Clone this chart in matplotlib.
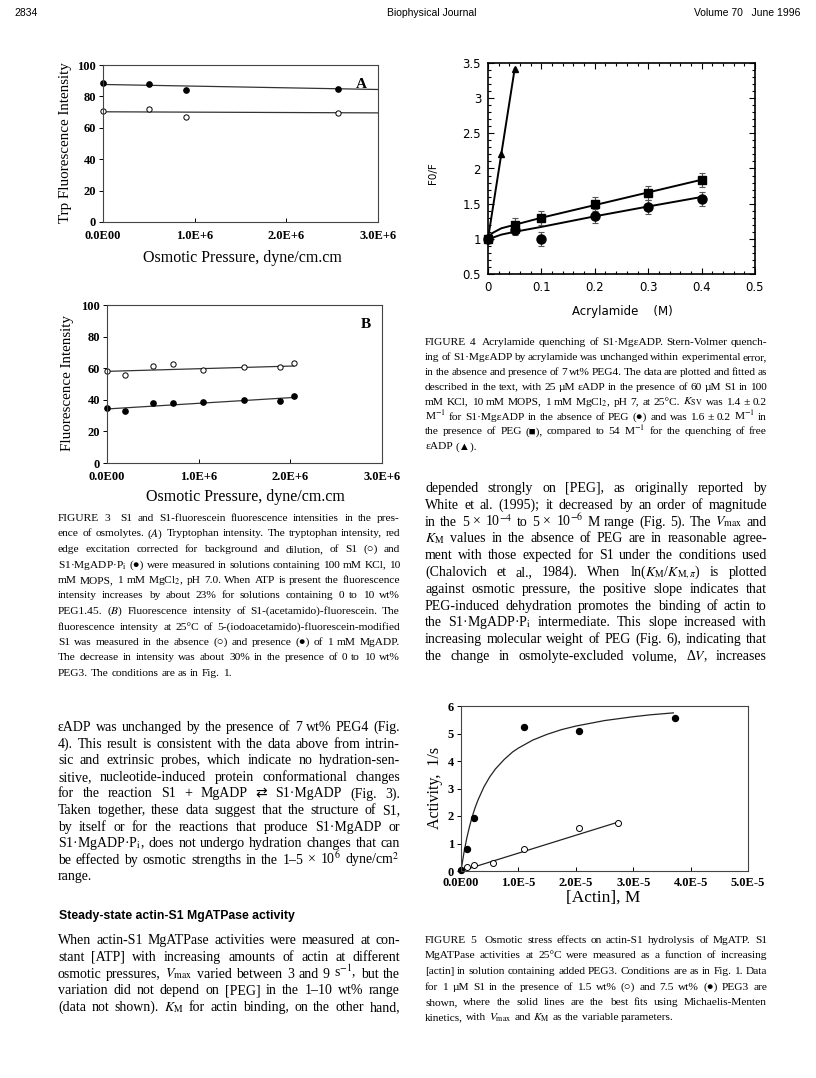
import matplotlib
matplotlib.use("Agg")
import matplotlib.pyplot as plt
from matplotlib.ticker import MultipleLocator, AutoMinorLocator

plt.rcParams['mathtext.fontset'] = 'stix'

W, H = 816, 1078
SERIF = ['Liberation Serif', 'DejaVu Sans']
SANS = ['Liberation Sans', 'DejaVu Sans']

# ---- Figure 3A: Trp fluorescence vs osmotic pressure
a_x_filled = [0.0, 0.5e6, 0.9e6, 2.56e6]
a_y_filled = [88.4, 88.2, 84.1, 84.6]
a_x_open = [0.0, 0.5e6, 0.9e6, 2.56e6]
a_y_open = [70.6, 72.0, 66.8, 69.2]
a_fit_x = [0.0, 3.0e6]
a_fit_filled = [87.6, 84.4]
a_fit_open = [70.2, 69.5]

# ---- Figure 3B: fluorescein fluorescence vs osmotic pressure
b_x = [0.0, 0.2e6, 0.5e6, 0.72e6, 1.05e6, 1.49e6, 1.89e6, 2.04e6]
b_y_open = [58.2, 55.6, 61.2, 62.6, 59.0, 60.5, 60.5, 63.5]
b_y_filled = [34.5, 33.0, 38.0, 38.0, 38.3, 40.0, 39.5, 42.5]
b_fit_x = [0.0, 2.04e6]
b_fit_open = [58.0, 61.4]
b_fit_filled = [34.2, 41.5]
osm_ticks = [0.0, 1.0e6, 2.0e6, 3.0e6]
osm_labels = ['0.0E00', '1.0E+6', '2.0E+6', '3.0E+6']

# ---- Figure 4: Stern-Volmer acrylamide quenching
acryl = [0.0, 0.05, 0.1, 0.2, 0.3, 0.4]
f0f_peg = [1.0, 1.2, 1.29, 1.5, 1.65, 1.84]
f0f_nopeg = [1.0, 1.13, 1.0, 1.32, 1.45, 1.57]
err_peg = [0.0, 0.1, 0.1, 0.1, 0.1, 0.1]
err_nopeg = [0.0, 0.08, 0.1, 0.1, 0.1, 0.1]
acryl_free = [0.0, 0.025, 0.05]
f0f_free = [1.0, 2.2, 3.42]
fit_peg_x = [0.0, 0.003, 0.01, 0.025, 0.05, 0.1, 0.2, 0.3, 0.4]
fit_peg_y = [1.0, 1.05, 1.09, 1.15, 1.2, 1.3, 1.48, 1.66, 1.84]
fit_nopeg_x = [0.0, 0.01, 0.025, 0.05, 0.1, 0.2, 0.3, 0.4]
fit_nopeg_y = [1.0, 1.02, 1.06, 1.1, 1.17, 1.32, 1.46, 1.595]
fit_free_x = [0.0, 0.05]
fit_free_y = [1.0, 3.42]

# ---- Figure 5: actin-S1 MgATPase activity
actin_filled = [0.0, 0.11e-5, 0.22e-5, 1.09e-5, 2.05e-5, 3.73e-5]
act_filled = [0.05, 0.8, 1.92, 5.24, 5.1, 5.55]
actin_open = [0.11e-5, 0.22e-5, 0.55e-5, 1.09e-5, 2.05e-5, 2.74e-5]
act_open = [0.13, 0.23, 0.29, 0.8, 1.57, 1.74]
mm_x = [0.0, 0.05e-5, 0.1e-5, 0.15e-5, 0.2e-5, 0.25e-5, 0.3e-5, 0.4e-5,
        0.5e-5, 0.6e-5, 0.75e-5, 0.9e-5, 1.0e-5, 1.25e-5, 1.5e-5, 1.75e-5,
        2.0e-5, 2.5e-5, 3.0e-5, 3.3e-5, 3.7e-5]
mm_y = [0.0, 0.65, 1.19, 1.63, 2.01, 2.33, 2.6, 3.06,
        3.42, 3.71, 4.05, 4.33, 4.47, 4.76, 4.97, 5.14,
        5.27, 5.47, 5.61, 5.68, 5.75]
lin_x = [0.0, 2.74e-5]
lin_y = [0.0, 1.78]
actin_ticks = [0.0, 1e-5, 2e-5, 3e-5, 4e-5, 5e-5]
actin_labels = ['0.0E00', '1.0E-5', '2.0E-5', '3.0E-5', '4.0E-5', '5.0E-5']

# ---- page text (math kept free of spaces so lines can be split on words)
header = ['2834', 'Biophysical Journal', 'Volume 70   June 1996']

cap3 = [
    "FIGURE 3  S1 and S1-fluorescein fluorescence intensities in the pres-",
    "ence of osmolytes. ($A$) Tryptophan intensity. The tryptophan intensity, red",
    "edge excitation corrected for background and dilution, of S1 (○) and",
    r"S1·MgADP·P$_\mathrm{i}$ (●) were measured in solutions containing 100 mM KCl, 10",
    "mM MOPS, 1 mM MgCl$_2$, pH 7.0. When ATP is present the fluorescence",
    "intensity increases by about 23% for solutions containing 0 to 10 wt%",
    "PEG1.45. ($B$) Fluorescence intensity of S1-(acetamido)-fluorescein. The",
    "fluorescence intensity at 25°C of 5-(iodoacetamido)-fluorescein-modified",
    "S1 was measured in the absence (○) and presence (●) of 1 mM MgADP.",
    "The decrease in intensity was about 30% in the presence of 0 to 10 wt%",
    "PEG3. The conditions are as in Fig. 1.",
]
cap4 = [
    "FIGURE 4  Acrylamide quenching of S1·MgεADP. Stern-Volmer quench-",
    "ing of S1·MgεADP by acrylamide was unchanged within experimental error,",
    "in the absence and presence of 7 wt% PEG4. The data are plotted and fitted as",
    "described in the text, with 25 µM εADP in the presence of 60 µM S1 in 100",
    r"mM KCl, 10 mM MOPS, 1 mM MgCl$_2$, pH 7, at 25°C. $K_\mathrm{SV}$ was 1.4 ± 0.2",
    "M$^{-1}$ for S1·MgεADP in the absence of PEG (●) and was 1.6 ± 0.2 M$^{-1}$ in",
    "the presence of PEG (■), compared to 54 M$^{-1}$ for the quenching of free",
    "εADP (▲).",
]
cap5 = [
    "FIGURE 5  Osmotic stress effects on actin-S1 hydrolysis of MgATP. S1",
    "MgATPase activities at 25°C were measured as a function of increasing",
    "[actin] in solution containing added PEG3. Conditions are as in Fig. 1. Data",
    "for 1 µM S1 in the presence of 1.5 wt% (○) and 7.5 wt% (●) PEG3 are",
    "shown, where the solid lines are the best fits using Michaelis-Menten",
    r"kinetics, with $V_\mathrm{max}$ and $K_\mathrm{M}$ as the variable parameters.",
]
body_left = [
    "εADP was unchanged by the presence of 7 wt% PEG4 (Fig.",
    "4). This result is consistent with the data above from intrin-",
    "sic and extrinsic probes, which indicate no hydration-sen-",
    "sitive, nucleotide-induced protein conformational changes",
    "for the reaction S1 + MgADP ⇄ S1·MgADP (Fig. 3).",
    "Taken together, these data suggest that the structure of S1,",
    "by itself or for the reactions that produce S1·MgADP or",
    r"S1·MgADP·P$_\mathrm{i}$, does not undergo hydration changes that can",
    "be effected by osmotic strengths in the 1–5 × 10$^6$ dyne/cm$^2$",
    "range.",
]
heading = "Steady-state actin-S1 MgATPase activity"
body_left2 = [
    "When actin-S1 MgATPase activities were measured at con-",
    "stant [ATP] with increasing amounts of actin at different",
    r"osmotic pressures, $V_\mathrm{max}$ varied between 3 and 9 s$^{-1}$, but the",
    "variation did not depend on [PEG] in the 1–10 wt% range",
    r"(data not shown). $K_\mathrm{M}$ for actin binding, on the other hand,",
]
body_right = [
    "depended strongly on [PEG], as originally reported by",
    "White et al. (1995); it decreased by an order of magnitude",
    r"in the 5 × 10$^{-4}$ to 5 × 10$^{-6}$ M range (Fig. 5). The $V_\mathrm{max}$ and",
    r"$K_\mathrm{M}$ values in the absence of PEG are in reasonable agree-",
    "ment with those expected for S1 under the conditions used",
    r"(Chalovich et al., 1984). When ln($K_\mathrm{M}$/$K_{\mathrm{M},\pi}$) is plotted",
    "against osmotic pressure, the positive slope indicates that",
    "PEG-induced dehydration promotes the binding of actin to",
    r"the S1·MgADP·P$_\mathrm{i}$ intermediate. This slope increased with",
    "increasing molecular weight of PEG (Fig. 6), indicating that",
    "the change in osmolyte-excluded volume, Δ$V$, increases",
]


def fx(x):
    return x / W


def fy(y):
    return 1 - y / H


def axes_px(fig, l, t, r, b):
    return fig.add_axes([l / W, 1 - b / H, (r - l) / W, (b - t) / H])


def put_line(fig, rend, x0, x1, y, line, size, family, justify=True, **kw):
    words = line.split(' ')
    texts = [fig.text(fx(x0), fy(y), w, fontsize=size, family=family,
                      va='baseline', ha='left', **kw) for w in words]
    widths = [t.get_window_extent(rend).width if w else 0.0
              for t, w in zip(texts, words)]
    gap = 0.25 * size * fig.dpi / 72
    if justify and len(words) > 1:
        gap = (x1 - x0 - sum(widths)) / (len(words) - 1)
    x = x0
    for t, w in zip(texts, widths):
        t.set_x(fx(x))
        x += w + gap


def put_block(fig, rend, x0, x1, y0, dy, lines, size, family, last_justified=False):
    for i, line in enumerate(lines):
        last = i == len(lines) - 1
        put_line(fig, rend, x0, x1, y0 + i * dy, line, size, family,
                 justify=(not last) or last_justified)


def style_times_axes(ax, xticks, xlabels, yticks):
    ax.set_xticks(xticks)
    ax.set_xticklabels(xlabels)
    ax.set_yticks(yticks)
    for lab in ax.get_xticklabels() + ax.get_yticklabels():
        lab.set_family(SERIF)
        lab.set_fontweight('bold')
        lab.set_fontsize(9)
    ax.tick_params(axis='x', direction='in', length=3, width=0.7, pad=6)
    ax.tick_params(axis='y', direction='out', length=3, width=0.7, pad=2)
    for s in ax.spines.values():
        s.set_linewidth(0.8)
        s.set_color('#444444')


fig = plt.figure(figsize=(W / 100, H / 100), dpi=100)
rend = fig.canvas.get_renderer()

# header
fig.text(fx(14), fy(16), header[0], fontsize=7.5, family=SANS, va='baseline')
fig.text(fx(432), fy(16), header[1], fontsize=7.5, family=SANS, va='baseline', ha='center')
fig.text(fx(800), fy(16), header[2], fontsize=7.5, family=SANS, va='baseline', ha='right')

# ---- Fig 3A
axA = axes_px(fig, 103, 65, 378, 222)
axA.plot(a_fit_x, a_fit_filled, color='#333333', lw=0.9)
axA.plot(a_fit_x, a_fit_open, color='#333333', lw=0.9)
axA.plot(a_x_filled, a_y_filled, 'o', ms=3.8, mfc='black', mec='black', clip_on=False)
axA.plot(a_x_open, a_y_open, 'o', ms=3.8, mfc='white', mec='black', mew=0.7, clip_on=False)
axA.set_xlim(0, 3.0e6)
axA.set_ylim(0, 100)
style_times_axes(axA, osm_ticks, osm_labels, [0, 20, 40, 60, 80, 100])
axA.text(0.96, 0.92, 'A', transform=axA.transAxes, ha='right', va='top',
         family=SERIF, fontweight='bold', fontsize=11)
fig.text(fx(65), fy(143), 'Trp Fluorescence Intensity', rotation=90, ha='center',
         va='center', family=SERIF, fontsize=10.8)
fig.text(fx(242), fy(258), 'Osmotic Pressure, dyne/cm.cm', ha='center', va='center',
         family=SERIF, fontsize=11.5)

# ---- Fig 3B
axB = axes_px(fig, 107, 305, 382, 463)
axB.plot(b_fit_x, b_fit_open, color='#333333', lw=0.9)
axB.plot(b_fit_x, b_fit_filled, color='#333333', lw=0.9)
axB.plot(b_x, b_y_open, 'o', ms=3.8, mfc='white', mec='black', mew=0.7, clip_on=False)
axB.plot(b_x, b_y_filled, 'o', ms=3.8, mfc='black', mec='black', clip_on=False)
axB.set_xlim(0, 3.0e6)
axB.set_ylim(0, 100)
style_times_axes(axB, osm_ticks, osm_labels, [0, 20, 40, 60, 80, 100])
axB.text(0.96, 0.92, 'B', transform=axB.transAxes, ha='right', va='top',
         family=SERIF, fontweight='bold', fontsize=11)
fig.text(fx(68), fy(383), 'Fluorescence Intensity', rotation=90, ha='center',
         va='center', family=SERIF, fontsize=10.8)
fig.text(fx(245), fy(497), 'Osmotic Pressure, dyne/cm.cm', ha='center', va='center',
         family=SERIF, fontsize=11.5)

# ---- Fig 4
ax4 = axes_px(fig, 488, 63, 755, 274)
ax4.plot(fit_free_x, fit_free_y, color='black', lw=1.4)
ax4.plot(fit_peg_x, fit_peg_y, color='black', lw=1.4)
ax4.plot(fit_nopeg_x, fit_nopeg_y, color='black', lw=1.4)
ax4.errorbar(acryl, f0f_peg, yerr=err_peg, fmt='s', ms=6, color='black',
             ecolor='#555555', elinewidth=0.8, capsize=2, capthick=0.8, clip_on=False)
ax4.errorbar(acryl, f0f_nopeg, yerr=err_nopeg, fmt='o', ms=6.5, color='black',
             ecolor='#555555', elinewidth=0.8, capsize=2, capthick=0.8, clip_on=False)
ax4.plot(acryl_free, f0f_free, '^', ms=4, color='black', clip_on=False)
ax4.set_xlim(0, 0.5)
ax4.set_ylim(0.5, 3.5)
ax4.xaxis.set_major_locator(MultipleLocator(0.1))
ax4.yaxis.set_major_locator(MultipleLocator(0.5))
ax4.xaxis.set_minor_locator(AutoMinorLocator(5))
ax4.yaxis.set_minor_locator(AutoMinorLocator(5))
ax4.xaxis.set_major_formatter(lambda v, p: '{:g}'.format(round(v, 2)))
ax4.yaxis.set_major_formatter(lambda v, p: '{:g}'.format(round(v, 2)))
ax4.tick_params(which='both', direction='in', top=True, right=True, width=0.8,
                labelsize=8.5, pad=5)
ax4.tick_params(which='major', length=4)
ax4.tick_params(which='minor', length=2)
for lab in ax4.get_xticklabels() + ax4.get_yticklabels():
    lab.set_family('DejaVu Sans')
for s in ax4.spines.values():
    s.set_linewidth(1.2)
fig.text(fx(433), fy(173), 'F0/F', rotation=90, ha='center', va='center',
         family='DejaVu Sans', fontsize=7.5)
fig.text(fx(622), fy(311), 'Acrylamide    (M)', ha='center', va='center',
         family='DejaVu Sans', fontsize=8.5)

# ---- Fig 5
ax5 = axes_px(fig, 461, 706, 748, 871)
ax5.plot(mm_x, mm_y, color='#222222', lw=0.9)
ax5.plot(lin_x, lin_y, color='#222222', lw=0.9)
ax5.plot(actin_filled, act_filled, 'o', ms=4.3, mfc='black', mec='black', clip_on=False)
ax5.plot(actin_open, act_open, 'o', ms=4.3, mfc='white', mec='black', mew=0.7, clip_on=False)
ax5.set_xlim(0, 5e-5)
ax5.set_ylim(0, 6)
style_times_axes(ax5, actin_ticks, actin_labels, [0, 1, 2, 3, 4, 5, 6])
ax5.tick_params(axis='x', pad=4)
fig.text(fx(435), fy(788), 'Activity,  1/s', rotation=90, ha='center', va='center',
         family=SERIF, fontsize=11.5)
fig.text(fx(603), fy(898), '[Actin], M', ha='center', va='center',
         family=SERIF, fontsize=12.5)

# ---- captions and body text
put_block(fig, rend, 58, 400, 521, 15.5, cap3, 8.2, SERIF)
put_block(fig, rend, 425, 767, 345, 14.9, cap4, 8.2, SERIF)
put_block(fig, rend, 425, 767, 943, 15.5, cap5, 8.2, SERIF)
put_block(fig, rend, 58, 400, 731, 16.6, body_left, 10.0, SERIF)
fig.text(fx(59), fy(919), heading, fontsize=8.8, family=SANS, fontweight='bold',
         va='baseline')
put_block(fig, rend, 58, 400, 944, 16.8, body_left2, 10.0, SERIF, last_justified=True)
put_block(fig, rend, 425, 767, 492, 16.8, body_right, 10.0, SERIF, last_justified=True)

fig.savefig('out.png', dpi=100)
